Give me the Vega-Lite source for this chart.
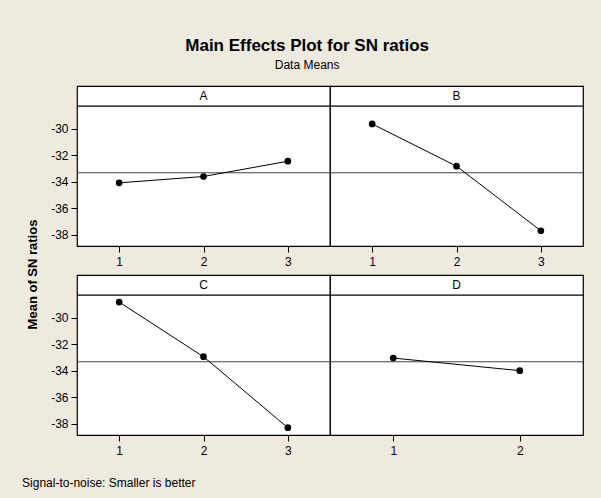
{
  "$schema": "https://vega.github.io/schema/vega-lite/v6.json",
  "background": "#EEEAE0",
  "padding": {"left": 22, "top": 37, "right": 22, "bottom": 10},
  "config": {
    "view": {"fill": "white", "stroke": "black", "strokeWidth": 1.2},
    "font": "Liberation Sans, Arial",
    "axis": {
      "grid": false, "domain": false, "ticks": true, "tickColor": "black", "tickSize": 6,
      "labelColor": "black", "labelFontSize": 12, "labelFont": "Liberation Sans, Arial",
      "labelPadding": 3, "title": null, "labelOverlap": false,
      "labelExpr": "datum.value < 0 ? '-' + format(-datum.value, 'd') : format(datum.value, 'd')"
    },
    "axisX": {"minExtent": 28, "labelPadding": 4},
    "title": {"color": "black"}
  },
  "datasets": {
    "effects": [
      {"factor": "A", "level": 1, "sn": -34.09},
      {"factor": "A", "level": 2, "sn": -33.61},
      {"factor": "A", "level": 3, "sn": -32.46},
      {"factor": "B", "level": 1, "sn": -29.65},
      {"factor": "B", "level": 2, "sn": -32.83},
      {"factor": "B", "level": 3, "sn": -37.70},
      {"factor": "C", "level": 1, "sn": -28.83},
      {"factor": "C", "level": 2, "sn": -32.95},
      {"factor": "C", "level": 3, "sn": -38.30},
      {"factor": "D", "level": 1, "sn": -33.05},
      {"factor": "D", "level": 2, "sn": -34.00}
    ],
    "grand": [{"mean": -33.33}],
    "labels": [{"factor": "A"}, {"factor": "B"}, {"factor": "C"}, {"factor": "D"}]
  },
  "title": {
    "text": "Main Effects Plot for SN ratios",
    "subtitle": "Data Means",
    "fontSize": 17, "fontWeight": "bold", "font": "Liberation Sans, Arial",
    "subtitleFontSize": 12, "subtitleColor": "black", "subtitleFont": "Liberation Sans, Arial",
    "subtitlePadding": 5, "offset": 13, "anchor": "middle", "dx": 4
  },
  "vconcat": [
    {
      "title": {"text": "Signal-to-noise: Smaller is better", "orient": "bottom", "anchor": "start", "fontSize": 12, "fontWeight": "normal", "font": "Liberation Sans, Arial", "offset": 14, "dx": -5},
      "vconcat": [
        {
          "title": {"text": "Mean of SN ratios", "orient": "left", "anchor": "middle", "fontSize": 13, "fontWeight": "bold", "font": "Liberation Sans, Arial", "offset": 10},
          "columns": 2,
          "spacing": {"row": 29, "column": 0},
          "bounds": "flush",
          "concat": [
            {"width": 253, "height": 160, "layer": [
              {"data": {"name": "labels"}, "transform": [{"filter": "datum.factor === 'A'"}], "mark": {"type": "rule", "color": "black", "strokeWidth": 1.2}, "encoding": {"y": {"datum": -28.3, "type": "quantitative", "scale": {"domain": [-38.85, -26.79], "nice": false, "zero": false}, "axis": {"values": [-30, -32, -34, -36, -38]}}}},
              {"data": {"name": "labels"}, "transform": [{"filter": "datum.factor === 'A'"}], "mark": {"type": "text", "fontSize": 12, "color": "black"}, "encoding": {"text": {"field": "factor"}, "x": {"datum": 2, "type": "quantitative"}, "y": {"datum": -27.55, "type": "quantitative", "axis": {"values": [-30, -32, -34, -36, -38]}}}},
              {"data": {"name": "grand"}, "mark": {"type": "rule", "color": "#444", "strokeWidth": 1}, "encoding": {"y": {"field": "mean", "type": "quantitative", "axis": {"values": [-30, -32, -34, -36, -38]}}}},
              {"data": {"name": "effects"}, "transform": [{"filter": "datum.factor === 'A'"}], "layer": [
                {"mark": {"type": "line", "color": "black", "strokeWidth": 1}, "encoding": {}},
                {"mark": {"type": "point", "filled": true, "color": "black", "opacity": 1, "size": 45}, "encoding": {}}
              ], "encoding": {
                "x": {"field": "level", "type": "quantitative", "scale": {"domain": [0.5, 3.5], "nice": false, "zero": false}, "axis": {"values": [1, 2, 3]}},
                "y": {"field": "sn", "type": "quantitative", "axis": {"values": [-30, -32, -34, -36, -38]}}
              }}
            ]},
            {"width": 253, "height": 160, "layer": [
              {"data": {"name": "labels"}, "transform": [{"filter": "datum.factor === 'B'"}], "mark": {"type": "rule", "color": "black", "strokeWidth": 1.2}, "encoding": {"y": {"datum": -28.3, "type": "quantitative", "scale": {"domain": [-38.85, -26.79], "nice": false, "zero": false}, "axis": null}}},
              {"data": {"name": "labels"}, "transform": [{"filter": "datum.factor === 'B'"}], "mark": {"type": "text", "fontSize": 12, "color": "black"}, "encoding": {"text": {"field": "factor"}, "x": {"datum": 2, "type": "quantitative"}, "y": {"datum": -27.55, "type": "quantitative", "axis": null}}},
              {"data": {"name": "grand"}, "mark": {"type": "rule", "color": "#444", "strokeWidth": 1}, "encoding": {"y": {"field": "mean", "type": "quantitative", "axis": null}}},
              {"data": {"name": "effects"}, "transform": [{"filter": "datum.factor === 'B'"}], "layer": [
                {"mark": {"type": "line", "color": "black", "strokeWidth": 1}, "encoding": {}},
                {"mark": {"type": "point", "filled": true, "color": "black", "opacity": 1, "size": 45}, "encoding": {}}
              ], "encoding": {
                "x": {"field": "level", "type": "quantitative", "scale": {"domain": [0.5, 3.5], "nice": false, "zero": false}, "axis": {"values": [1, 2, 3]}},
                "y": {"field": "sn", "type": "quantitative", "axis": null}
              }}
            ]},
            {"width": 253, "height": 160, "layer": [
              {"data": {"name": "labels"}, "transform": [{"filter": "datum.factor === 'C'"}], "mark": {"type": "rule", "color": "black", "strokeWidth": 1.2}, "encoding": {"y": {"datum": -28.3, "type": "quantitative", "scale": {"domain": [-38.85, -26.79], "nice": false, "zero": false}, "axis": {"values": [-30, -32, -34, -36, -38]}}}},
              {"data": {"name": "labels"}, "transform": [{"filter": "datum.factor === 'C'"}], "mark": {"type": "text", "fontSize": 12, "color": "black"}, "encoding": {"text": {"field": "factor"}, "x": {"datum": 2, "type": "quantitative"}, "y": {"datum": -27.55, "type": "quantitative", "axis": {"values": [-30, -32, -34, -36, -38]}}}},
              {"data": {"name": "grand"}, "mark": {"type": "rule", "color": "#444", "strokeWidth": 1}, "encoding": {"y": {"field": "mean", "type": "quantitative", "axis": {"values": [-30, -32, -34, -36, -38]}}}},
              {"data": {"name": "effects"}, "transform": [{"filter": "datum.factor === 'C'"}], "layer": [
                {"mark": {"type": "line", "color": "black", "strokeWidth": 1}, "encoding": {}},
                {"mark": {"type": "point", "filled": true, "color": "black", "opacity": 1, "size": 45}, "encoding": {}}
              ], "encoding": {
                "x": {"field": "level", "type": "quantitative", "scale": {"domain": [0.5, 3.5], "nice": false, "zero": false}, "axis": {"values": [1, 2, 3]}},
                "y": {"field": "sn", "type": "quantitative", "axis": {"values": [-30, -32, -34, -36, -38]}}
              }}
            ]},
            {"width": 253, "height": 160, "layer": [
              {"data": {"name": "labels"}, "transform": [{"filter": "datum.factor === 'D'"}], "mark": {"type": "rule", "color": "black", "strokeWidth": 1.2}, "encoding": {"y": {"datum": -28.3, "type": "quantitative", "scale": {"domain": [-38.85, -26.79], "nice": false, "zero": false}, "axis": null}}},
              {"data": {"name": "labels"}, "transform": [{"filter": "datum.factor === 'D'"}], "mark": {"type": "text", "fontSize": 12, "color": "black"}, "encoding": {"text": {"field": "factor"}, "x": {"datum": 1.5, "type": "quantitative"}, "y": {"datum": -27.55, "type": "quantitative", "axis": null}}},
              {"data": {"name": "grand"}, "mark": {"type": "rule", "color": "#444", "strokeWidth": 1}, "encoding": {"y": {"field": "mean", "type": "quantitative", "axis": null}}},
              {"data": {"name": "effects"}, "transform": [{"filter": "datum.factor === 'D'"}], "layer": [
                {"mark": {"type": "line", "color": "black", "strokeWidth": 1}, "encoding": {}},
                {"mark": {"type": "point", "filled": true, "color": "black", "opacity": 1, "size": 45}, "encoding": {}}
              ], "encoding": {
                "x": {"field": "level", "type": "quantitative", "scale": {"domain": [0.5, 2.5], "nice": false, "zero": false}, "axis": {"values": [1, 2]}},
                "y": {"field": "sn", "type": "quantitative", "axis": null}
              }}
            ]}
          ]
        }
      ]
    }
  ]
}
